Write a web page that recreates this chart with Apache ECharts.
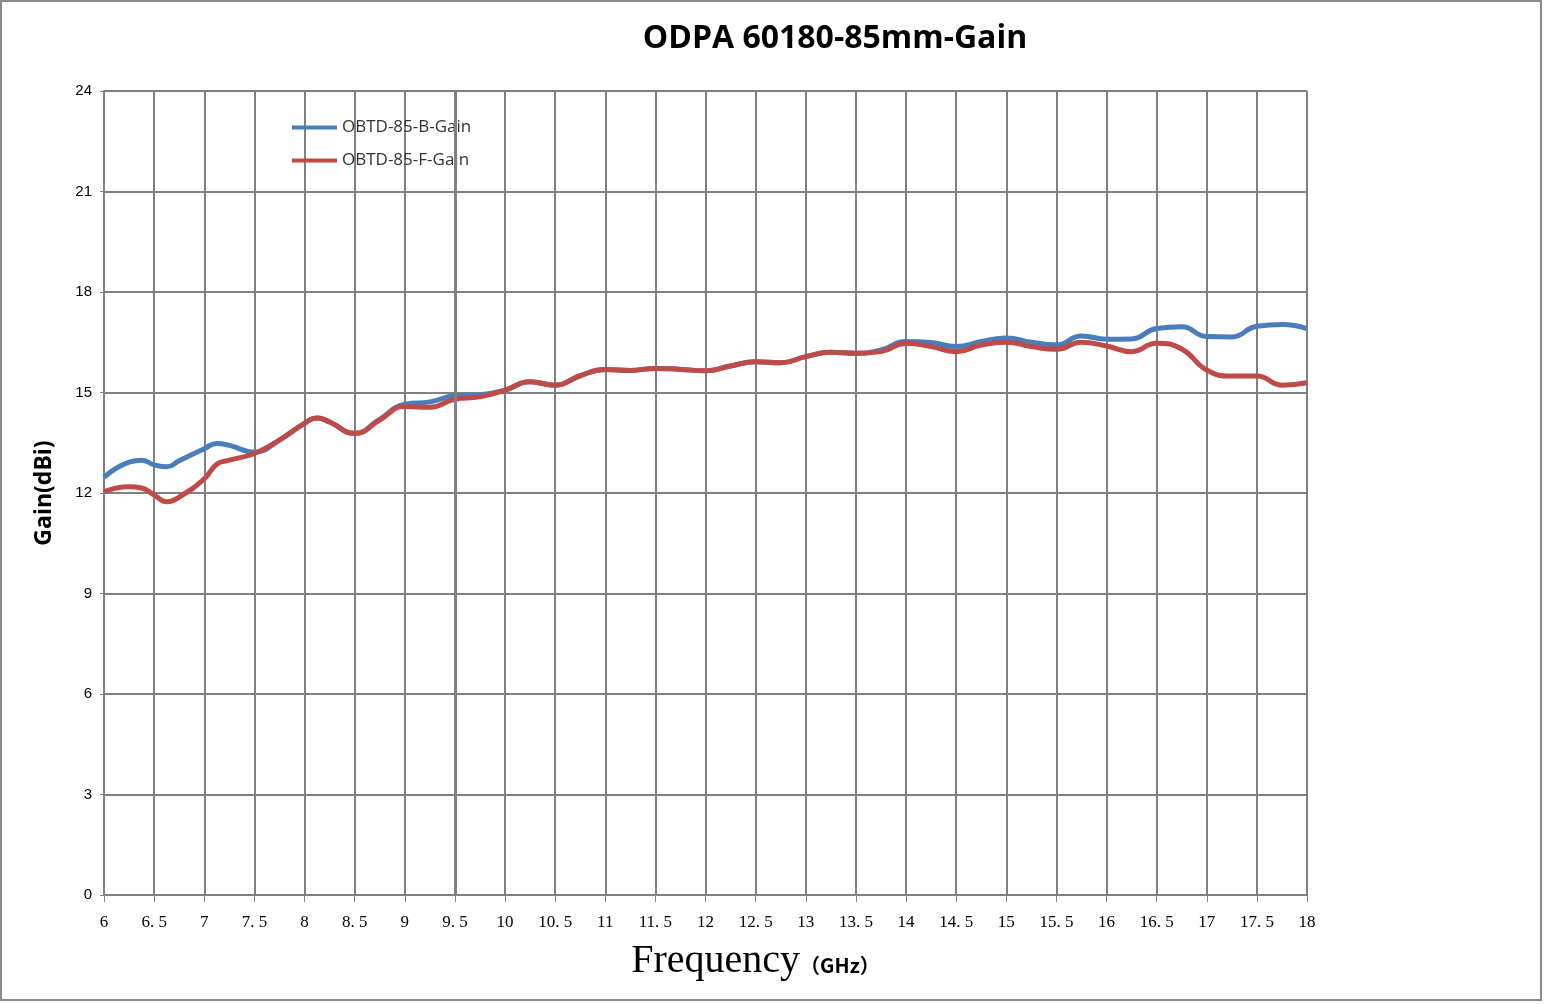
<!DOCTYPE html>
<html>
<head>
<meta charset="utf-8">
<title>ODPA 60180-85mm-Gain</title>
<script src="https://cdn.jsdelivr.net/npm/echarts@6/dist/echarts.min.js"></script>
<style>
  html, body { margin: 0; padding: 0; background: #fff; }
  #main { width: 1544px; height: 1004px; }
</style>
</head>
<body>
<div id="main"></div>
<script>
// frequency points (GHz)
var freqs = [6, 6.25, 6.375, 6.5, 6.625, 6.75, 7, 7.125, 7.25, 7.5, 7.75, 8, 8.125, 8.25, 8.5, 8.75, 9, 9.25, 9.5, 9.75,
  10, 10.25, 10.5, 10.75, 11, 11.25, 11.5, 11.75, 12, 12.25, 12.5, 12.75, 13, 13.25, 13.5, 13.75,
  14, 14.25, 14.5, 14.75, 15, 15.25, 15.5, 15.75, 16, 16.25, 16.5, 16.75, 17, 17.25, 17.5, 17.75, 18];

var gainB = [12.47, 12.92, 12.98, 12.84, 12.78, 12.96, 13.32, 13.48, 13.42, 13.22, 13.58, 14.08, 14.24, 14.12, 13.78, 14.2, 14.65, 14.72, 14.9, 14.93,
  15.07, 15.32, 15.22, 15.5, 15.69, 15.66, 15.72, 15.69, 15.65, 15.79, 15.92, 15.89, 16.07, 16.2, 16.17, 16.27,
  16.52, 16.49, 16.37, 16.52, 16.63, 16.5, 16.42, 16.69, 16.59, 16.6, 16.91, 16.96, 16.67, 16.66, 16.98, 17.03, 16.91];

var gainF = [12.04, 12.19, 12.15, 11.94, 11.74, 11.88, 12.42, 12.86, 12.98, 13.18, 13.58, 14.08, 14.24, 14.12, 13.78, 14.18, 14.58, 14.56, 14.8, 14.87,
  15.07, 15.32, 15.22, 15.5, 15.69, 15.66, 15.72, 15.69, 15.65, 15.79, 15.92, 15.89, 16.07, 16.2, 16.17, 16.22,
  16.47, 16.37, 16.22, 16.42, 16.5, 16.37, 16.29, 16.5, 16.39, 16.22, 16.47, 16.3, 15.67, 15.49, 15.49, 15.22, 15.29];

var seriesNames = ['OBTD-85-B-Gain', 'OBTD-85-F-Gain'];

function pairs(ys) {
  return freqs.map(function (f, i) { return [f, ys[i]]; });
}

var chart = echarts.init(document.getElementById('main'));

var option = {
  backgroundColor: '#fff',
  animation: false,
  title: {
    text: 'ODPA 60180-85mm-Gain',
    left: 830,
    textAlign: 'center',
    top: 18,
    textStyle: { fontFamily: 'Open Sans', fontWeight: 'bold', fontSize: 32, color: '#000' }
  },
  legend: {
    orient: 'vertical',
    left: 287,
    top: 114,
    itemWidth: 45,
    itemHeight: 4,
    itemGap: 16,
    icon: 'rect',
    textStyle: { fontFamily: 'Open Sans', fontSize: 17, color: '#333' },
    data: seriesNames
  },
  grid: { left: 104, right: 237, top: 91, bottom: 109 },
  xAxis: {
    type: 'value',
    min: 6,
    max: 18,
    interval: 0.5,
    name: '{a|Frequency}{b|（GHz）}',
    nameLocation: 'middle',
    nameGap: 46,
    nameTextStyle: {
      padding: [0, 0, 0, 100],
      rich: {
        a: { fontFamily: 'Liberation Serif', fontSize: 40, color: '#000' },
        b: { fontFamily: 'Noto Sans CJK SC', fontWeight: 'bold', fontSize: 20, color: '#000', padding: [8, 0, 0, 0] }
      }
    },
    axisLine: { lineStyle: { color: '#808080', width: 2 } },
    axisTick: { show: true, length: 7, lineStyle: { color: '#808080', width: 1 } },
    axisLabel: {
      margin: 19,
      fontFamily: 'Liberation Serif',
      fontSize: 17,
      color: '#000',
      formatter: function (v) { return String(v).replace('.', '. '); }
    },
    splitLine: { lineStyle: { color: '#808080', width: 2 } }
  },
  yAxis: {
    type: 'value',
    min: 0,
    max: 24,
    interval: 3,
    name: 'Gain(dBi)',
    nameLocation: 'middle',
    nameGap: 48,
    nameRotate: 90,
    nameTextStyle: { fontFamily: 'Open Sans', fontWeight: 'bold', fontSize: 23, color: '#000' },
    axisLine: { show: true, lineStyle: { color: '#808080', width: 2 } },
    axisTick: { show: true, length: 4, lineStyle: { color: '#808080' } },
    axisLabel: { margin: 12, fontFamily: 'Liberation Sans', fontSize: 15, color: '#000' },
    splitLine: { lineStyle: { color: '#808080', width: 2 } }
  },
  graphic: [{
    type: 'rect',
    shape: { x: 1, y: 1, width: 1540, height: 999 },
    style: { fill: 'none', stroke: '#8a8a8a', lineWidth: 2 },
    silent: true
  }],
  series: [
    {
      name: seriesNames[0],
      type: 'line',
      smooth: true,
      symbol: 'none',
      color: '#4a7ebb',
      lineStyle: { width: 5, color: '#4a7ebb' },
      data: pairs(gainB),
      markLine: {
        silent: true,
        symbol: 'none',
        label: { show: false },
        lineStyle: { color: '#808080', width: 3, type: 'solid' },
        data: [{ xAxis: 9.5 }]
      }
    },
    {
      name: seriesNames[1],
      type: 'line',
      smooth: true,
      symbol: 'none',
      color: '#be4b48',
      lineStyle: { width: 5, color: '#be4b48' },
      data: pairs(gainF)
    }
  ]
};

chart.setOption(option);
</script>
</body>
</html>
